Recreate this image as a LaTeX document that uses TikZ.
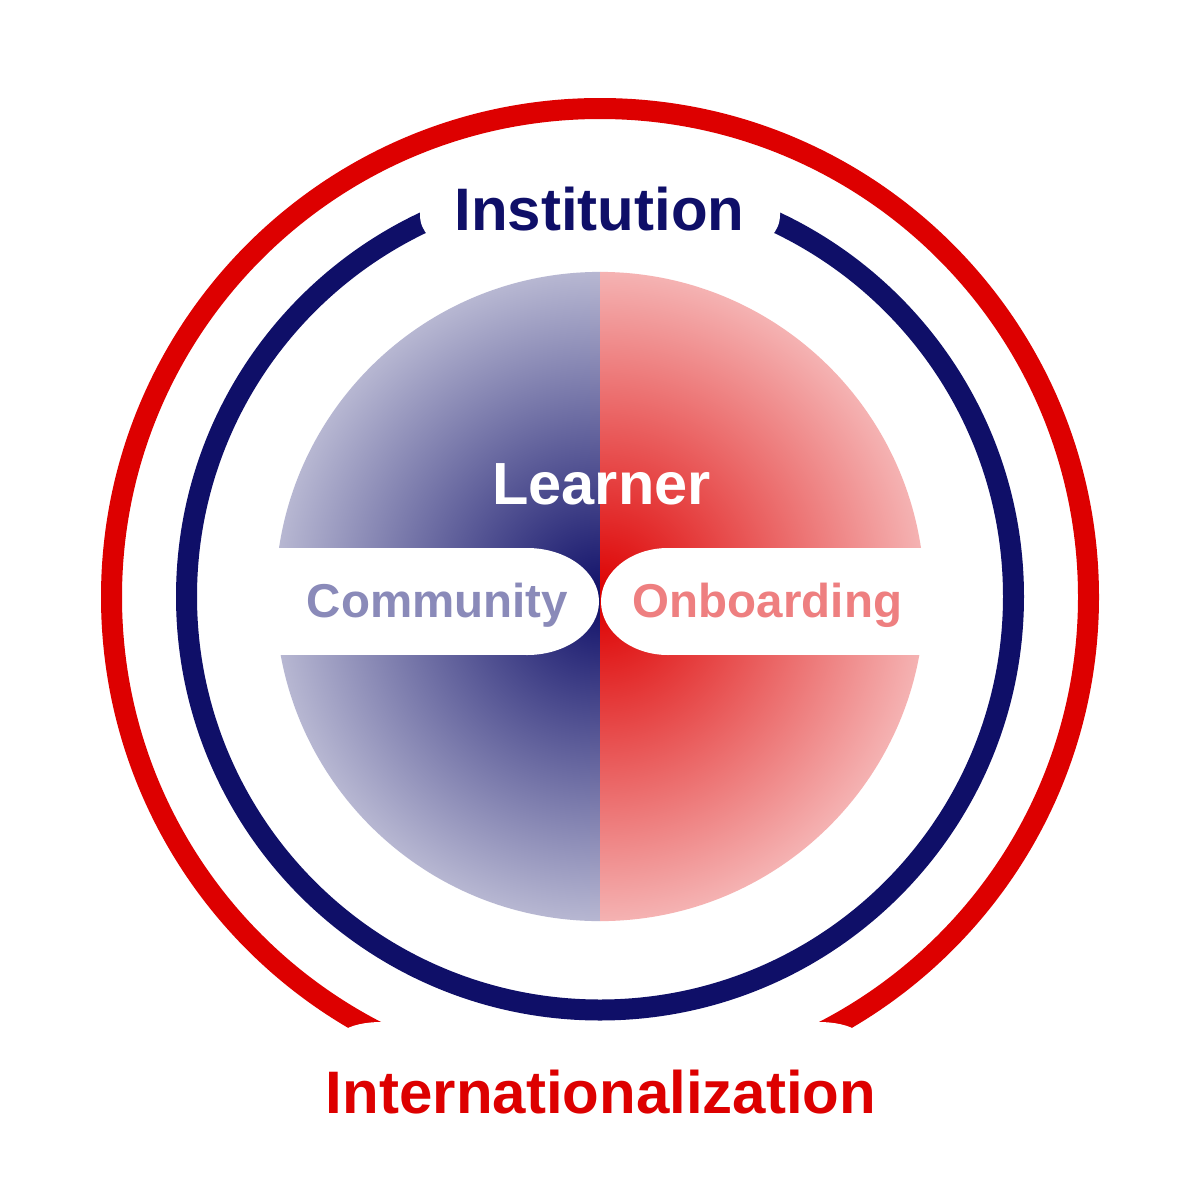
\documentclass[tikz,border=0pt]{standalone}
\usepackage{fontspec}
\setmainfont{Liberation Sans}
\definecolor{navyc}{HTML}{0F0F68}
\definecolor{redc}{HTML}{DD0000}
\definecolor{commc}{HTML}{8A8AB9}
\definecolor{onbc}{HTML}{EE7F80}
\tikzset{
  ringline/.style={line width=21pt},
  covershape/.style={fill=white, draw=none, rounded corners=30pt},
  bigtext/.style={inner sep=0pt, anchor=base, font=\bfseries\fontsize{60}{72}\selectfont},
  midtext/.style={inner sep=0pt, anchor=base, font=\bfseries\fontsize{47.5}{57}\selectfont},
}
\begin{document}
\begin{tikzpicture}[x=1pt, y=-1pt]
\useasboundingbox (0,0) rectangle (1200,1200);
\fill[white] (0,0) rectangle (1200,1200);
% outer red ring
\draw[ringline, redc] (600,597) circle[radius=488.5pt];
\fill[white] (330,1040) -- (342,1031)
  .. controls (352,1025) and (365,1022) .. (382,1022) -- (818,1022)
  .. controls (835,1022) and (848,1025) .. (858,1031) -- (870,1040)
  -- (870,1170) -- (330,1170) -- cycle;
% navy ring
\draw[ringline, navyc] (600,596.5) circle[radius=413.5pt];
\fill[covershape] (420,160) rectangle (780,245);
% inner circle halves
\begin{scope}
  \clip (260,250) rectangle (600,940);
  \shade[inner color=navyc, outer color=navyc!30!white] (600,596.5) circle[radius=324.6pt];
\end{scope}
\begin{scope}
  \clip (600,250) rectangle (940,940);
  \shade[inner color=redc, outer color=redc!30!white] (600,596.5) circle[radius=324.6pt];
\end{scope}
% white bands
\fill[white] (265,548) rectangle (527,655);
\fill[white] (527,601.5) ellipse[x radius=72pt, y radius=53.5pt];
\fill[white] (668,548) rectangle (935,655);
\fill[white] (668,601.5) ellipse[x radius=67pt, y radius=53.5pt];
% texts
\node[bigtext, text=navyc] (inst) at (599.5,230) {Institution};
\node[bigtext, text=white, font=\bfseries\fontsize{59.5}{72}\selectfont] (learn) at (601.5,504) {Learner};
\node[midtext, text=commc] (comm) at (437.5,617) {Community};
\node[midtext, text=onbc] (onb) at (767.5,617) {Onboarding};
\node[bigtext, text=redc] (intl) at (601,1113) {Internationalization};
\end{tikzpicture}
\end{document}
